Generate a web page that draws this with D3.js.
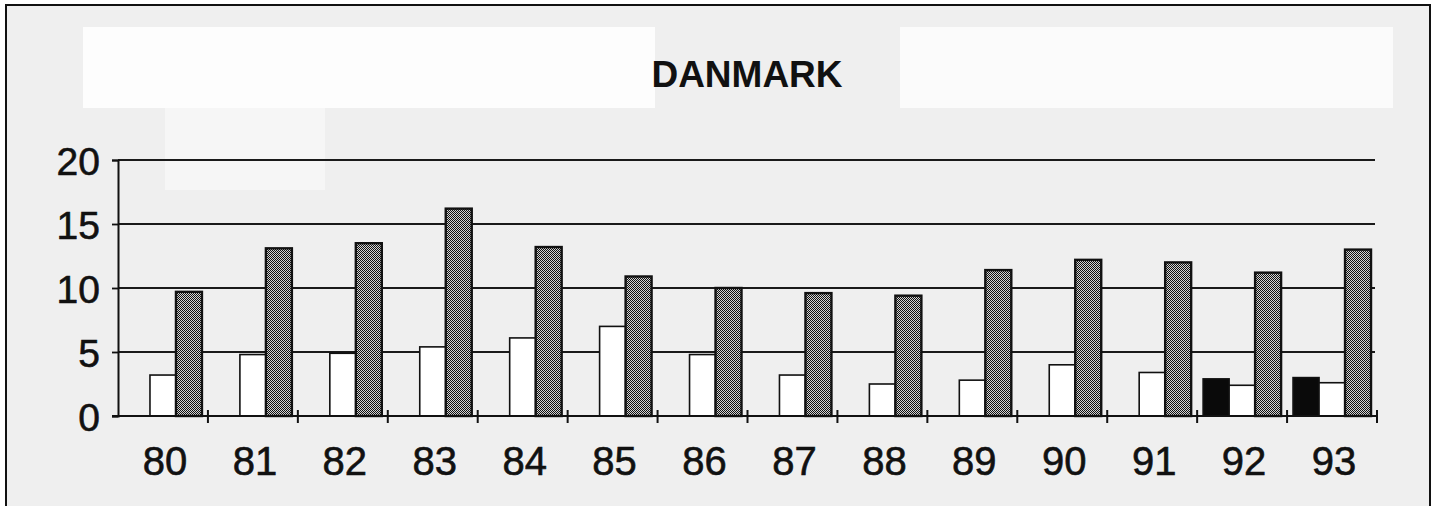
<!DOCTYPE html>
<html><head><meta charset="utf-8">
<script src="https://cdn.jsdelivr.net/npm/d3@7"></script>
<style>html,body{margin:0;padding:0;background:#fff;}svg{display:block;}</style>
</head><body>
<script>
const years = ["80","81","82","83","84","85","86","87","88","89","90","91","92","93"];
const blackVals = [null,null,null,null,null,null,null,null,null,null,null,null,2.9,3.0];
const whiteVals = [3.2,4.8,4.9,5.4,6.1,7.0,4.8,3.2,2.5,2.8,4.0,3.4,2.4,2.6];
const hatchVals = [9.7,13.1,13.5,16.2,13.2,10.9,10.0,9.6,9.4,11.4,12.2,12.0,11.2,13.0];
const yTicks = [0,5,10,15,20];
const title = "DANMARK";

(function(){
const W = 1437, H = 506;
const svg = d3.select("body").append("svg").attr("width", W).attr("height", H);
const defs = svg.append("defs");
const pat = defs.append("pattern").attr("id","hatch").attr("patternUnits","userSpaceOnUse")
  .attr("width",2).attr("height",2);
pat.append("rect").attr("width",2).attr("height",2).attr("fill","#d4d4d4");
pat.append("rect").attr("x",0).attr("y",0).attr("width",1).attr("height",1).attr("fill","#111");
pat.append("rect").attr("x",1).attr("y",1).attr("width",1).attr("height",1).attr("fill","#111");

// frame background
svg.append("rect").attr("x",6).attr("y",5).attr("width",1424).attr("height",H).attr("fill","#efefef")
  .attr("stroke","#111").attr("stroke-width",2);
// title band (scan patches)
svg.append("rect").attr("x",83).attr("y",27).attr("width",572).attr("height",81).attr("fill","#fdfdfd");
svg.append("rect").attr("x",900).attr("y",27).attr("width",493).attr("height",81).attr("fill","#fbfbfb");
svg.append("rect").attr("x",165).attr("y",108).attr("width",160).attr("height",82).attr("fill","#f6f6f6");

svg.append("text").attr("x",747).attr("y",87).attr("text-anchor","middle")
  .attr("font-family","Liberation Sans, Arial, sans-serif").attr("font-weight","bold")
  .attr("font-size",37).attr("fill","#111").text(title);

const pLeft = 118, pRight = 1377, pTop = 160, pBottom = 416;
const x = d3.scaleBand().domain(years).range([pLeft, pRight]).paddingInner(0).paddingOuter(0);
const series = ["black","white","hatch"];
const xs = d3.scaleBand().domain(series).range([0, x.bandwidth()]).paddingInner(0).paddingOuter(0.23);
const y = d3.scaleLinear().domain([0,20]).range([pBottom, pTop]);

// gridlines
svg.append("g").selectAll("line").data(yTicks.filter(d=>d>0)).join("line")
  .attr("x1",pLeft).attr("x2",1375).attr("y1",d=>y(d)).attr("y2",d=>y(d))
  .attr("stroke","#1a1a1a").attr("stroke-width",1.8);

// y axis
const yAxis = svg.append("g").attr("transform",`translate(${pLeft},0)`)
  .call(d3.axisLeft(y).tickValues(yTicks).tickSize(6).tickPadding(12).tickFormat(d3.format("d")));
yAxis.select(".domain").attr("stroke","#111").attr("stroke-width",2);
yAxis.selectAll(".tick line").attr("stroke","#111").attr("stroke-width",1.8);
yAxis.selectAll("text").attr("font-family","Liberation Sans, Arial, sans-serif").attr("font-size",39)
  .attr("fill","#111").attr("stroke","#111").attr("stroke-width",0.6).attr("dy","0.36em");

const rows = years.map((yr,i)=>({yr, black:blackVals[i], white:whiteVals[i], hatch:hatchVals[i]}));
const fills = {black:"#0a0a0a", white:"#ffffff", hatch:"url(#hatch)"};

const g = svg.append("g");
rows.forEach(r=>{
  series.forEach(s=>{
    if (r[s] == null) return;
    g.append("rect")
      .attr("x", x(r.yr) + xs(s))
      .attr("y", y(r[s]))
      .attr("width", xs.bandwidth())
      .attr("height", y(0) - y(r[s]))
      .attr("fill", fills[s])
      .attr("stroke", "#111")
      .attr("stroke-width", s==="hatch" ? 2.4 : 1.6);
  });
});

// x axis line and boundary ticks
svg.append("line").attr("x1",112).attr("x2",pRight).attr("y1",pBottom).attr("y2",pBottom)
  .attr("stroke","#111").attr("stroke-width",2);
svg.append("g").selectAll("line").data(years).join("line")
  .attr("x1",d=>x(d)+x.bandwidth()).attr("x2",d=>x(d)+x.bandwidth())
  .attr("y1",pBottom-6).attr("y2",pBottom+7).attr("stroke","#111").attr("stroke-width",2);

svg.append("g").selectAll("text").data(years).join("text")
  .attr("x",d=>x(d)+x.bandwidth()/2+2).attr("y",475).attr("text-anchor","middle")
  .attr("font-family","Liberation Sans, Arial, sans-serif").attr("font-size",40)
  .attr("fill","#111").attr("stroke","#111").attr("stroke-width",0.6).text(d=>d);
})();
</script>
</body></html>
